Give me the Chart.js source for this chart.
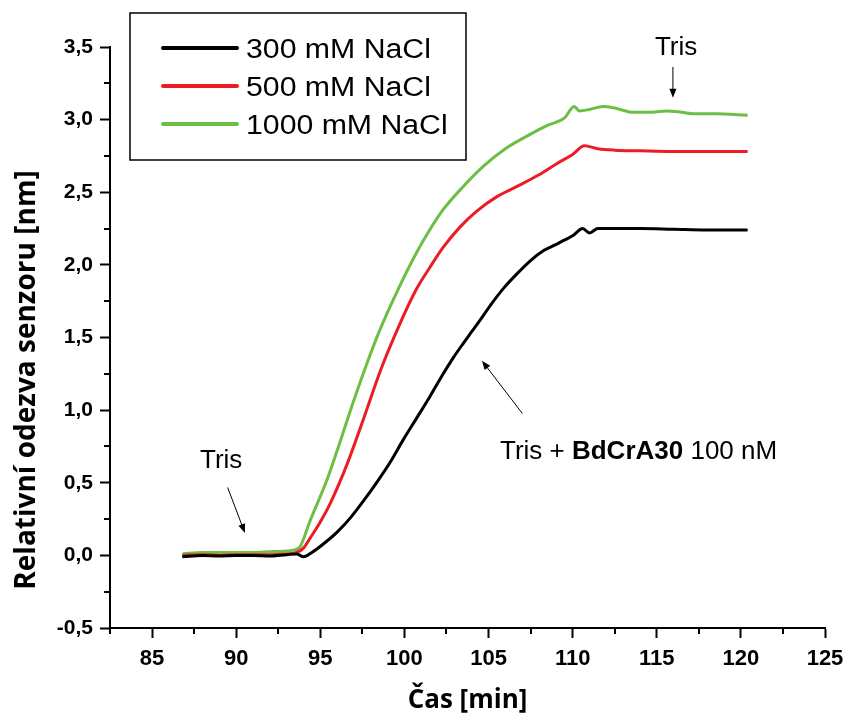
<!DOCTYPE html>
<html lang="cs">
<head>
    <meta charset="UTF-8">
    <title>Relativní odezva senzoru</title>
    <script src="https://cdn.jsdelivr.net/npm/chart.js@4.4.1/dist/chart.umd.min.js"></script>
    <style>
        html, body { margin: 0; padding: 0; background: #fff; }
        #wrap { width: 847px; height: 720px; }
    </style>
</head>
<body>
    <div id="wrap"><canvas id="sensorChart"></canvas></div>

    <script>
        // time [min] and sensor response [nm] for each NaCl concentration
        const time300 = [86.8, 88, 89, 90, 91, 92, 93, 93.6, 94.0, 94.5, 95.2, 96.0, 96.8, 97.6, 98.4, 99.2, 99.9, 100.7, 101.5, 102.2, 102.9, 103.5, 104.0, 104.5, 105.1, 105.9, 106.7, 107.5, 108.3, 109.0, 109.5, 110.0, 110.6, 111.0, 111.5, 112.5, 114, 116, 118, 120.4];
        const resp300 = [-0.01, 0.0, -0.005, 0.0, 0.0, -0.005, 0.005, 0.01, -0.01, 0.02, 0.08, 0.16, 0.26, 0.38, 0.51, 0.65, 0.79, 0.94, 1.09, 1.23, 1.36, 1.46, 1.54, 1.62, 1.72, 1.84, 1.94, 2.03, 2.10, 2.14, 2.17, 2.20, 2.25, 2.22, 2.25, 2.25, 2.25, 2.245, 2.24, 2.24];

        const time500 = [86.8, 88, 89, 90, 91, 92, 93, 93.6, 94.0, 94.4, 95.0, 95.6, 96.6, 97.6, 98.6, 99.6, 100.7, 101.5, 102.3, 103.3, 104.3, 105.5, 106.7, 108.0, 109.1, 110.0, 110.7, 111.5, 112.5, 114, 116, 118, 120.4];
        const resp500 = [0.0, 0.005, 0.0, 0.005, 0.005, 0.005, 0.01, 0.02, 0.05, 0.12, 0.23, 0.36, 0.63, 0.95, 1.28, 1.56, 1.83, 1.98, 2.12, 2.26, 2.37, 2.47, 2.54, 2.62, 2.70, 2.76, 2.82, 2.80, 2.79, 2.785, 2.78, 2.78, 2.78];

        const time1000 = [86.8, 88, 89, 90, 91, 92, 93, 93.5, 93.8, 94.4, 95.4, 96.2, 97.0, 97.8, 98.5, 99.5, 100.7, 101.5, 102.3, 103.5, 104.7, 106.0, 107.5, 108.5, 109.5, 110.1, 110.4, 111.0, 111.8, 112.5, 113.6, 114.5, 115.6, 116.5, 117.2, 118.5, 120.4];
        const resp1000 = [0.01, 0.02, 0.02, 0.02, 0.02, 0.025, 0.03, 0.04, 0.06, 0.24, 0.52, 0.79, 1.07, 1.33, 1.54, 1.80, 2.08, 2.24, 2.38, 2.54, 2.68, 2.80, 2.90, 2.96, 3.01, 3.09, 3.06, 3.07, 3.09, 3.08, 3.05, 3.05, 3.06, 3.05, 3.04, 3.04, 3.03];

        const seriesNames = ['300 mM NaCl', '500 mM NaCl', '1000 mM NaCl'];
        const seriesColors = ['#000000', '#ec1c24', '#6dbe45'];

        const xRange = [82.5, 125];
        const yRange = [-0.5, 3.5];

        const toPoints = (xs, ys) => xs.map((x, i) => ({ x: x, y: ys[i] }));
        const isMajor = (v, step) => Math.abs(v / step - Math.round(v / step)) < 1e-6;

        // minor ticks are shorter than the labelled ones
        const minorTicks = {
            id: 'minorTicks',
            afterDraw(chart) {
                const ctx = chart.ctx;
                const area = chart.chartArea;
                const xs = chart.scales.x, ys = chart.scales.y;
                ctx.save();
                ctx.strokeStyle = '#000';
                ctx.lineWidth = 2;
                ctx.beginPath();
                xs.ticks.forEach(t => {
                    if (!isMajor(t.value, 5)) {
                        const px = Math.round(xs.getPixelForValue(t.value));
                        ctx.moveTo(px, area.bottom);
                        ctx.lineTo(px, area.bottom + 6);
                    }
                });
                ys.ticks.forEach(t => {
                    if (!isMajor(t.value, 0.5)) {
                        const py = Math.round(ys.getPixelForValue(t.value));
                        ctx.moveTo(area.left, py);
                        ctx.lineTo(area.left - 6, py);
                    }
                });
                ctx.stroke();
                ctx.restore();
            }
        };

        function arrow(ctx, x1, y1, x2, y2) {
            const a = Math.atan2(y2 - y1, x2 - x1);
            const len = 9, w = 3.5;
            ctx.beginPath();
            ctx.moveTo(x1, y1);
            ctx.lineTo(x2 - Math.cos(a) * len * 0.8, y2 - Math.sin(a) * len * 0.8);
            ctx.stroke();
            ctx.beginPath();
            ctx.moveTo(x2, y2);
            ctx.lineTo(x2 - Math.cos(a) * len - Math.sin(a) * w, y2 - Math.sin(a) * len + Math.cos(a) * w);
            ctx.lineTo(x2 - Math.cos(a) * len + Math.sin(a) * w, y2 - Math.sin(a) * len - Math.cos(a) * w);
            ctx.closePath();
            ctx.fill();
        }

        // legend box, y axis title and the Tris labels with arrows
        const decorations = {
            id: 'decorations',
            afterDraw(chart) {
                const ctx = chart.ctx;
                const area = chart.chartArea;
                const xs = chart.scales.x, ys = chart.scales.y;
                const px = v => xs.getPixelForValue(v);
                const py = v => ys.getPixelForValue(v);
                ctx.save();

                // legend
                const bx = area.left + 20, by = 13;
                ctx.strokeStyle = '#000';
                ctx.lineWidth = 1.5;
                ctx.strokeRect(bx, by, 336, 147);
                seriesNames.forEach((name, i) => {
                    const ly = 48 + i * 38;
                    ctx.strokeStyle = seriesColors[i];
                    ctx.lineWidth = 4;
                    ctx.lineCap = 'round';
                    ctx.beginPath();
                    ctx.moveTo(bx + 33, ly);
                    ctx.lineTo(bx + 107, ly);
                    ctx.stroke();
                    ctx.save();
                    ctx.translate(bx + 116, ly + 10);
                    ctx.scale(1.12, 1);
                    ctx.fillStyle = '#000';
                    ctx.font = '27px "Liberation Sans", Arial, sans-serif';
                    ctx.textBaseline = 'alphabetic';
                    ctx.fillText(name, 0, 0);
                    ctx.restore();
                });

                // y axis title
                ctx.save();
                ctx.translate(35, 380);
                ctx.rotate(-Math.PI / 2);
                ctx.fillStyle = '#000';
                ctx.font = 'bold 28px "Open Sans", sans-serif';
                ctx.textAlign = 'center';
                ctx.textBaseline = 'alphabetic';
                ctx.fillText('Relativní odezva senzoru [nm]', 0, 0);
                ctx.restore();

                // annotations
                ctx.fillStyle = '#000';
                ctx.strokeStyle = '#000';
                ctx.lineWidth = 1;
                ctx.textBaseline = 'alphabetic';
                ctx.font = '26px "Liberation Sans", Arial, sans-serif';
                ctx.fillText('Tris', px(87.85), py(0.60));
                arrow(ctx, px(89.5), py(0.465), px(90.52), py(0.154));

                ctx.fillText('Tris', px(114.89), py(3.448));
                arrow(ctx, px(115.96), py(3.36), px(115.96), py(3.15));

                let tx = px(105.68);
                const ty = py(0.664);
                ctx.fillText('Tris + ', tx, ty);
                tx += ctx.measureText('Tris + ').width;
                ctx.font = 'bold 26px "Liberation Sans", Arial, sans-serif';
                ctx.fillText('BdCrA30', tx, ty);
                tx += ctx.measureText('BdCrA30').width;
                ctx.font = '26px "Liberation Sans", Arial, sans-serif';
                ctx.fillText(' 100 nM', tx, ty);
                arrow(ctx, px(106.99), py(0.98), px(104.61), py(1.34));

                ctx.restore();
            }
        };

        const ctx = document.getElementById('sensorChart').getContext('2d');
        const sensorChart = new Chart(ctx, {
            type: 'line',
            data: {
                datasets: [
                    { label: seriesNames[0], data: toPoints(time300, resp300), borderColor: seriesColors[0] },
                    { label: seriesNames[1], data: toPoints(time500, resp500), borderColor: seriesColors[1] },
                    { label: seriesNames[2], data: toPoints(time1000, resp1000), borderColor: seriesColors[2] }
                ].map(d => Object.assign(d, {
                    borderWidth: 3,
                    pointRadius: 0,
                    fill: false,
                    cubicInterpolationMode: 'monotone'
                }))
            },
            options: {
                responsive: true,
                maintainAspectRatio: false,
                animation: false,
                layout: { padding: { top: 47, right: 0, left: 0, bottom: 0 } },
                plugins: {
                    legend: { display: false },
                    tooltip: { enabled: false }
                },
                scales: {
                    x: {
                        type: 'linear',
                        min: xRange[0],
                        max: xRange[1],
                        afterFit: s => {
                            s.height = 92;
                            s.paddingLeft = 0;
                            s.paddingRight = 22;
                        },
                        border: { display: true, color: '#000', width: 2 },
                        grid: {
                            drawOnChartArea: false,
                            tickLength: 10,
                            tickWidth: 2,
                            tickColor: c => isMajor(c.tick.value, 5) ? '#000' : 'rgba(0,0,0,0)'
                        },
                        ticks: {
                            stepSize: 2.5,
                            autoSkip: false,
                            maxRotation: 0,
                            padding: 8,
                            color: '#000',
                            font: { family: '"Liberation Sans", Arial, sans-serif', size: 22, weight: 'bold' },
                            callback: v => isMajor(v, 5) ? String(v) : ''
                        },
                        title: {
                            display: true,
                            text: 'Čas [min]',
                            color: '#000',
                            padding: { top: 6 },
                            font: { family: '"Open Sans", sans-serif', size: 26, weight: 'bold' }
                        }
                    },
                    y: {
                        min: yRange[0],
                        max: yRange[1],
                        afterFit: s => { s.width = 110; },
                        border: { display: true, color: '#000', width: 2 },
                        grid: {
                            drawOnChartArea: false,
                            tickLength: 10,
                            tickWidth: 2,
                            tickColor: c => isMajor(c.tick.value, 0.5) ? '#000' : 'rgba(0,0,0,0)'
                        },
                        ticks: {
                            stepSize: 0.25,
                            autoSkip: false,
                            padding: 7,
                            color: '#000',
                            font: { family: '"Liberation Sans", Arial, sans-serif', size: 21, weight: 'bold' },
                            callback: v => isMajor(v, 0.5) ? v.toFixed(1).replace('.', ',') : ''
                        }
                    }
                }
            },
            plugins: [minorTicks, decorations]
        });
    </script>
</body>
</html>
